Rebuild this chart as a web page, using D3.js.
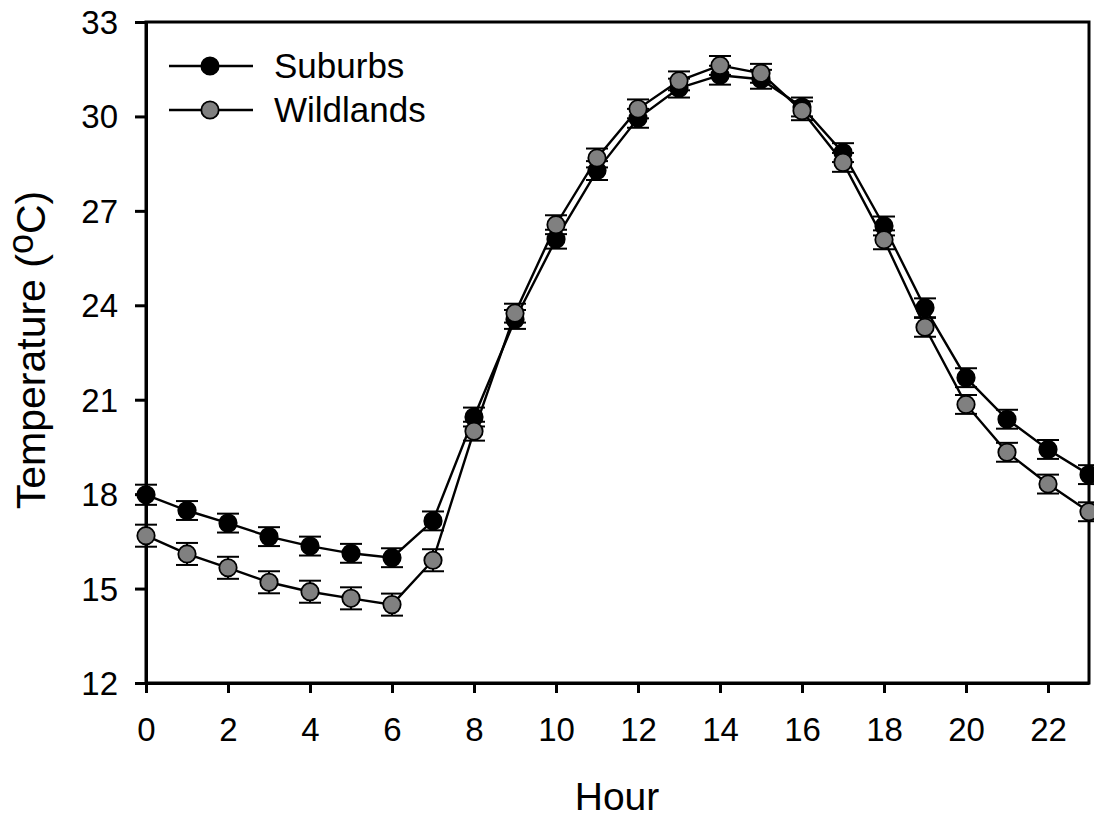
<!DOCTYPE html>
<html><head><meta charset="utf-8">
<script src="https://cdn.jsdelivr.net/npm/d3@7"></script>
<style>body{margin:0;background:#fff}svg{display:block}text{font-family:"Liberation Sans",Arial,sans-serif}</style>
</head><body><svg id="c" width="1094" height="820"></svg>
<script>
const hours = d3.range(0, 24);
const suburbs = [17.98,17.48,17.08,16.65,16.35,16.12,15.98,17.15,20.45,23.55,26.1,28.28,29.94,30.9,31.31,31.18,30.3,28.85,26.52,23.92,21.7,20.38,19.42,18.62];
const wildlands = [16.68,16.1,15.66,15.2,14.9,14.69,14.49,15.9,20.0,23.75,26.56,28.68,30.24,31.13,31.62,31.37,30.18,28.54,26.08,23.3,20.85,19.33,18.32,17.44];
const suburbsErr = [0.32,0.3,0.3,0.3,0.3,0.3,0.3,0.3,0.3,0.3,0.3,0.3,0.3,0.3,0.3,0.3,0.3,0.3,0.3,0.3,0.3,0.3,0.3,0.3];
const wildlandsErr = [0.35,0.35,0.35,0.35,0.35,0.35,0.35,0.35,0.3,0.3,0.3,0.3,0.3,0.3,0.3,0.3,0.3,0.3,0.3,0.3,0.3,0.3,0.3,0.3];
const xTicks = [0,2,4,6,8,10,12,14,16,18,20,22];
const yTicks = [12,15,18,21,24,27,30,33];
const seriesNames = ["Suburbs","Wildlands"];
const seriesFills = ["#000000","#808080"];

const svg = d3.select("#c");
const L=146, R=1089, T=22, B=683;
const x = d3.scaleLinear().domain([0,23]).range([L,R]);
const y = d3.scaleLinear().domain([12,33]).range([B,T]);

svg.append("rect").attr("x",L).attr("y",T).attr("width",R-L).attr("height",B-T)
  .attr("fill","none").attr("stroke","#000").attr("stroke-width",3);

const xAxis = svg.append("g").attr("transform",`translate(0,${B})`)
  .call(d3.axisBottom(x).tickValues(xTicks).tickSize(10).tickSizeOuter(0).tickPadding(25));
const yAxis = svg.append("g").attr("transform",`translate(${L},0)`)
  .call(d3.axisLeft(y).tickValues(yTicks).tickSize(11).tickSizeOuter(0).tickPadding(17));
[xAxis,yAxis].forEach(g=>{
  g.attr("font-size",null).attr("font-family",null);
  g.select(".domain").attr("stroke","#000").attr("stroke-width",3);
  g.selectAll(".tick line").attr("stroke","#000").attr("stroke-width",3);
  g.selectAll(".tick text").attr("font-size",33).attr("fill","#000");
});
xAxis.selectAll(".tick text").attr("dy","0.71em");
yAxis.selectAll(".tick text").attr("dy","0.35em");

const data = [
  {vals:suburbs, err:suburbsErr, fill:seriesFills[0]},
  {vals:wildlands, err:wildlandsErr, fill:seriesFills[1]}
];
const line = d3.line().x((d,i)=>x(hours[i])).y(d=>y(d));
data.forEach(s=>{
  svg.append("path").attr("d",line(s.vals)).attr("fill","none").attr("stroke","#000").attr("stroke-width",2.4);
});
data.forEach(s=>{
  const g = svg.append("g");
  s.vals.forEach((v,i)=>{
    const cx=x(hours[i]);
    const e=s.err[i];
    g.append("line").attr("x1",cx).attr("x2",cx).attr("y1",y(v+e)).attr("y2",y(v-e)).attr("stroke","#000").attr("stroke-width",2);
    [v+e,v-e].forEach(yy=>g.append("line").attr("x1",cx-11).attr("x2",cx+11).attr("y1",y(yy)).attr("y2",y(yy)).attr("stroke","#000").attr("stroke-width",2));
  });
  s.vals.forEach((v,i)=>{
    g.append("circle").attr("cx",x(hours[i])).attr("cy",y(v)).attr("r",8.7)
      .attr("fill",s.fill).attr("stroke","#000").attr("stroke-width",1.8);
  });
});

seriesNames.forEach((n,i)=>{
  const ly = 66 + i*44;
  svg.append("line").attr("x1",169).attr("x2",253).attr("y1",ly).attr("y2",ly).attr("stroke","#000").attr("stroke-width",2.4);
  svg.append("circle").attr("cx",210).attr("cy",ly).attr("r",8.7).attr("fill",seriesFills[i]).attr("stroke","#000").attr("stroke-width",1.8);
  svg.append("text").attr("x",274).attr("y",ly).attr("dy","0.35em").attr("font-size",35).text(n);
});

svg.append("text").attr("x",617).attr("y",810).attr("text-anchor","middle").attr("font-size",39).text("Hour");
const yt = svg.append("text").attr("transform",`translate(45,350) rotate(-90)`).attr("text-anchor","middle").attr("font-size",41);
yt.append("tspan").text("Temperature (");
yt.append("tspan").attr("font-size",36).attr("dy",-12).text("o");
yt.append("tspan").attr("dy",12).text("C)");
</script></body></html>
